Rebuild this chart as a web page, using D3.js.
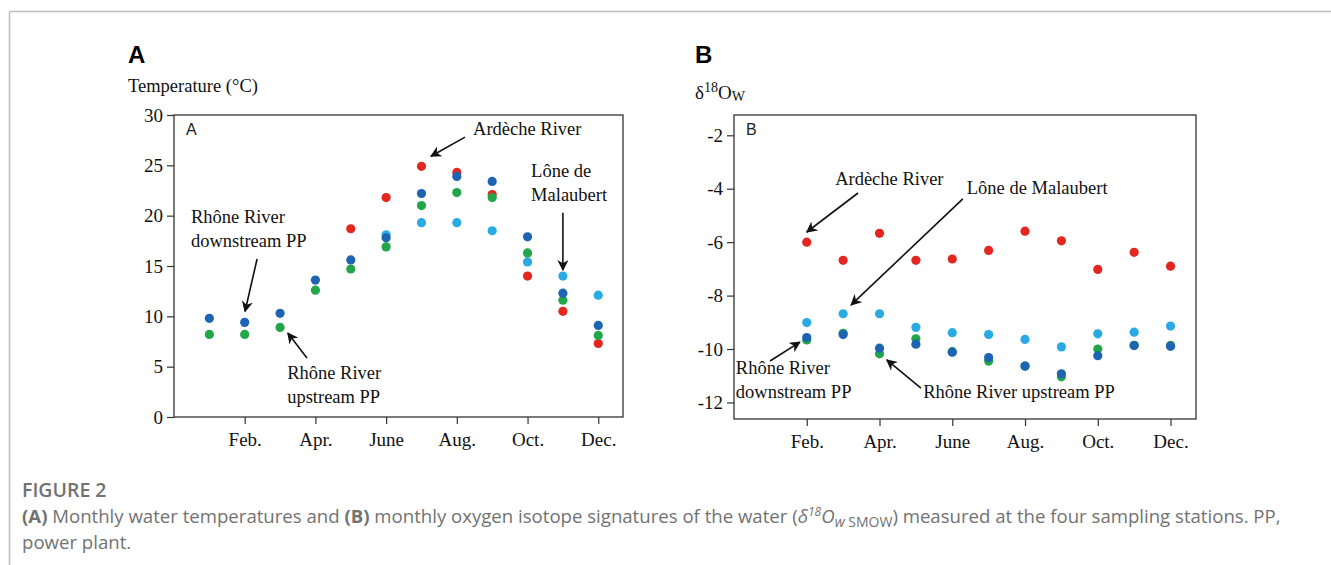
<!DOCTYPE html>
<html>
<head>
<meta charset="utf-8">
<script src="https://cdn.jsdelivr.net/npm/d3@7"></script>
<style>
  body { margin: 0; background: #fff; }
  .serif { font-family: "Liberation Serif", "Times New Roman", serif; }
  .tick text { font-family: "Liberation Serif", "Times New Roman", serif; font-size: 19px; fill: #111; }
  .tick line { stroke: #333; stroke-width: 1.2; }
</style>
</head>
<body>
<svg id="fig" width="1331" height="565"></svg>
<script>
// months 1..12, ticks on even months
var months = [1, 2, 3, 4, 5, 6, 7, 8, 9, 10, 11, 12];
var tickMonths = [2, 4, 6, 8, 10, 12];
var tickLabels = ["Feb.", "Apr.", "June", "Aug.", "Oct.", "Dec."];

// panel A: water temperature (°C), null = no sample
var tempArdeche   = [null, null, null, null, 18.7, 21.8, 24.9, 24.3, 22.1, 14.0, 10.5, 7.3];
var tempLone      = [null, null, null, null, null, 18.1, 19.3, 19.3, 18.5, 15.4, 14.0, 12.1];
var tempUpstream  = [8.2, 8.2, 8.9, 12.6, 14.7, 16.9, 21.0, 22.3, 21.8, 16.3, 11.6, 8.1];
var tempDownstream = [9.8, 9.4, 10.3, 13.6, 15.6, 17.8, 22.2, 23.9, 23.4, 17.9, 12.3, 9.1];
var tempTicks = [0, 5, 10, 15, 20, 25, 30];

// panel B: d18O of water (per mil SMOW)
var isoArdeche    = [null, -6.0, -6.68, -5.67, -6.68, -6.63, -6.31, -5.59, -5.95, -7.02, -6.38, -6.9];
var isoLone       = [null, -9.01, -8.68, -8.68, -9.19, -9.39, -9.46, -9.64, -9.92, -9.43, -9.37, -9.14];
var isoUpstream   = [null, -9.66, -9.41, -10.18, -9.62, -10.1, -10.45, -10.64, -11.04, -10.0, -9.86, -9.86];
var isoDownstream = [null, -9.57, -9.46, -9.97, -9.82, -10.12, -10.32, -10.64, -10.93, -10.25, -9.87, -9.9];
var isoTicks = [-12, -10, -8, -6, -4, -2];

var colors = {ardeche: "#e3261f", lone: "#2aaae2", up: "#21a64a", down: "#1d64b2"};

var svg = d3.select("#fig");

// arrowhead
svg.append("defs").append("marker")
    .attr("id", "arr")
    .attr("viewBox", "0 0 10 10")
    .attr("refX", 9).attr("refY", 5)
    .attr("markerWidth", 7).attr("markerHeight", 7)
    .attr("markerUnits", "strokeWidth")
    .attr("orient", "auto")
    .append("path")
    .attr("d", "M0,0 L10,5 L0,10 L3,5 Z")
    .attr("fill", "#111");

// page frame
svg.append("line").attr("x1", 9.5).attr("y1", 11.5).attr("x2", 1331).attr("y2", 11.5)
    .attr("stroke", "#bdbdbd").attr("stroke-width", 1.5);
svg.append("line").attr("x1", 9.5).attr("y1", 11.5).attr("x2", 9.5).attr("y2", 565)
    .attr("stroke", "#bdbdbd").attr("stroke-width", 1.5);

function panel(opt) {
    var g = svg.append("g");
    var x = d3.scaleLinear().domain([0, 12.7]).range(opt.xr);
    var y = d3.scaleLinear().domain(opt.yd).range(opt.yr);

    g.append("rect")
        .attr("x", opt.xr[0]).attr("y", opt.yr[1])
        .attr("width", opt.xr[1] - opt.xr[0])
        .attr("height", opt.yr[0] - opt.yr[1])
        .attr("fill", "none").attr("stroke", "#333").attr("stroke-width", 1.3);

    // plain hyphen for negatives, like the original
    var yAxis = g.append("g")
        .attr("transform", "translate(" + opt.xr[0] + ",0)")
        .call(d3.axisLeft(y).tickValues(opt.ticks).tickSize(7).tickPadding(4)
            .tickFormat(function(d) { return String(d); }));
    yAxis.select(".domain").remove();

    var xAxis = g.append("g")
        .attr("transform", "translate(0," + opt.yr[0] + ")")
        .call(d3.axisBottom(x).tickValues(tickMonths).tickSize(7).tickPadding(9)
            .tickFormat(function(d, i) { return tickLabels[i]; }));
    xAxis.select(".domain").remove();

    // bold panel letter
    g.append("text")
        .attr("x", opt.letterX).attr("y", 63)
        .style("font-family", "'Liberation Sans', Arial, sans-serif")
        .style("font-weight", "bold").style("font-size", "24px")
        .text(opt.letter);

    // inner letter
    g.append("text")
        .attr("x", opt.xr[0] + 12).attr("y", opt.yr[1] + 20)
        .style("font-family", "'Liberation Sans', Arial, sans-serif")
        .style("font-size", "16px").attr("fill", "#222")
        .text(opt.letter);

    // dots: red, light blue, green, dark blue on top
    opt.series.forEach(function(s) {
        var pts = months.map(function(m, i) { return {m: m, v: s.values[i]}; })
            .filter(function(d) { return d.v !== null; });
        g.selectAll(null)
            .data(pts)
            .enter().append("circle")
            .attr("cx", function(d) { return x(d.m); })
            .attr("cy", function(d) { return y(d.v); })
            .attr("r", 4.6)
            .attr("fill", s.color);
    });

    // annotations (positions in data units)
    opt.notes.forEach(function(n) {
        n.lines.forEach(function(t, i) {
            g.append("text")
                .attr("class", "serif")
                .attr("x", x(n.tx)).attr("y", y(n.ty) + i * 24)
                .style("font-size", "18.5px").attr("fill", "#111")
                .text(t);
        });
        g.append("line")
            .attr("x1", x(n.from[0])).attr("y1", y(n.from[1]))
            .attr("x2", x(n.to[0])).attr("y2", y(n.to[1]))
            .attr("stroke", "#111").attr("stroke-width", 1.6)
            .attr("marker-end", "url(#arr)");
    });

    return g;
}

var gA = panel({
    letter: "A", letterX: 128,
    xr: [174, 623], yr: [417, 115], yd: [0, 30], ticks: tempTicks,
    series: [
        {values: tempArdeche, color: colors.ardeche},
        {values: tempLone, color: colors.lone},
        {values: tempUpstream, color: colors.up},
        {values: tempDownstream, color: colors.down}
    ],
    notes: [
        {lines: ["Ardèche River"], tx: 8.46, ty: 28.0, from: [8.23, 27.8], to: [7.27, 25.9]},
        {lines: ["Lône de", "Malaubert"], tx: 10.1, ty: 23.8, from: [11.0, 20.3], to: [11.0, 14.6]},
        {lines: ["Rhône River", "downstream PP"], tx: 0.48, ty: 19.3, from: [2.35, 15.7], to: [2.01, 10.5]},
        {lines: ["Rhône River", "upstream PP"], tx: 3.2, ty: 3.77, from: [3.76, 5.86], to: [3.22, 8.34]}
    ]
});
gA.append("text").attr("class", "serif")
    .attr("x", 128).attr("y", 92).style("font-size", "18.5px").attr("fill", "#111")
    .text("Temperature (°C)");

var gB = panel({
    letter: "B", letterX: 695,
    xr: [734, 1196], yr: [419, 115], yd: [-12.62, -1.24], ticks: isoTicks,
    series: [
        {values: isoArdeche, color: colors.ardeche},
        {values: isoLone, color: colors.lone},
        {values: isoUpstream, color: colors.up},
        {values: isoDownstream, color: colors.down}
    ],
    notes: [
        {lines: ["Ardèche River"], tx: 2.78, ty: -3.86, from: [3.41, -4.16], to: [2.0, -5.62]},
        {lines: ["Lône de Malaubert"], tx: 6.4, ty: -4.2, from: [6.29, -4.38], to: [3.22, -8.35]},
        {lines: ["Rhône River", "downstream PP"], tx: 0.05, ty: -10.94, from: [0.99, -10.45], to: [1.81, -9.74]},
        {lines: ["Rhône River upstream PP"], tx: 5.2, ty: -11.83, from: [5.14, -11.46], to: [4.2, -10.41]}
    ]
});
var yl = gB.append("text").attr("class", "serif")
    .attr("x", 695).attr("y", 99).style("font-size", "19px").attr("fill", "#111");
yl.append("tspan").text("δ");
yl.append("tspan").attr("dy", -7).style("font-size", "14px").text("18");
yl.append("tspan").attr("dy", 7).text("O");
yl.append("tspan").attr("dy", 2).style("font-size", "14px").text("W");

// caption
var cap = svg.append("g").style("font-family", "'Open Sans', sans-serif").attr("fill", "#727272");
cap.append("text").attr("x", 22).attr("y", 497)
    .style("font-size", "19.5px").style("font-weight", "600")
    .text("FIGURE 2");
var l1 = cap.append("text").attr("x", 22).attr("y", 523).style("font-size", "18.6px");
l1.append("tspan").style("font-weight", "bold").text("(A)");
l1.append("tspan").text(" Monthly water temperatures and ");
l1.append("tspan").style("font-weight", "bold").text("(B)");
l1.append("tspan").text(" monthly oxygen isotope signatures of the water (");
l1.append("tspan").style("font-style", "italic").text("δ");
l1.append("tspan").style("font-style", "italic").style("font-size", "12px").attr("dy", -7).text("18");
l1.append("tspan").style("font-style", "italic").attr("dy", 7).text("O");
l1.append("tspan").style("font-style", "italic").style("font-size", "14px").attr("dy", 4).text("w");
l1.append("tspan").style("font-size", "14px").text(" SMOW");
l1.append("tspan").attr("dy", -4).text(") measured at the four sampling stations. PP,");
cap.append("text").attr("x", 22).attr("y", 549).style("font-size", "18.6px")
    .text("power plant.");
</script>
</body>
</html>
